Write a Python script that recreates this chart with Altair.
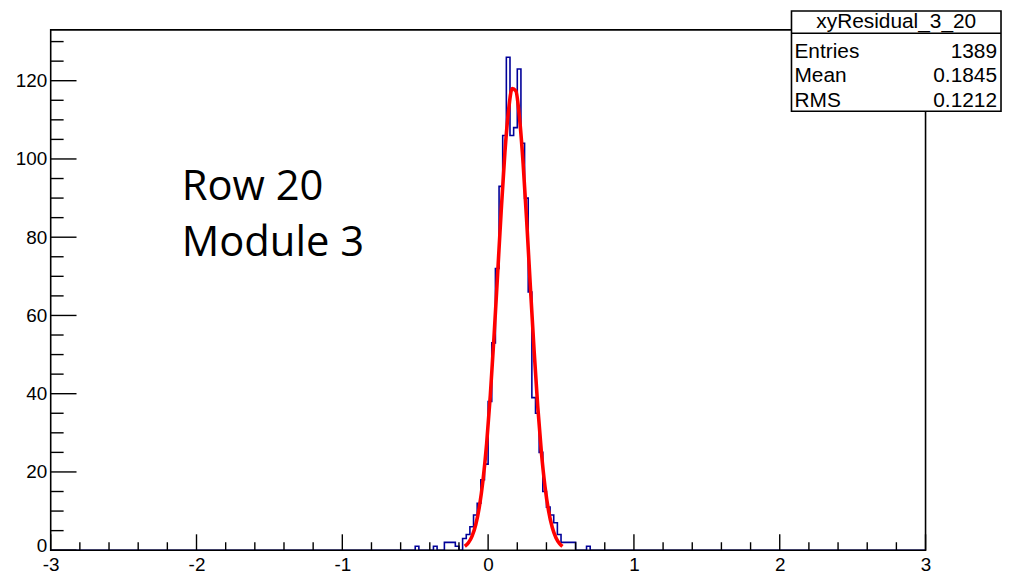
import altair as alt
import pandas as pd

# ---------------- data ----------------
# histogram xyResidual_3_20 : bins of width 0.025 starting at -0.525
bin_start = -0.525
bin_width = 0.025
counts = [0, 1, 0, 0, 0, 0, 1, 0, 0, 2,
          2, 2, 1, 0, 3, 4, 6, 9, 12, 18,
          22, 38, 53, 72, 93, 106, 126, 106, 108, 123,
          104, 90, 66, 39, 35, 25, 15, 11, 9, 7,
          4, 2, 2, 2, 2, 0, 0, 0, 1, 0]

fit_x = [-0.16, -0.135, -0.11, -0.085, -0.06, -0.035, -0.01, 0.015, 0.04, 0.065,
         0.09, 0.115, 0.14, 0.165, 0.19, 0.215, 0.24, 0.265, 0.29, 0.315,
         0.34, 0.365, 0.39, 0.415, 0.44, 0.465, 0.49, 0.51]
fit_y = [1.0, 1.9, 3.6, 6.5, 11.1, 17.9, 27.3, 39.6, 54.3, 70.5,
         86.9, 101.6, 112.4, 118.0, 117.4, 110.6, 98.9, 83.8, 67.2, 51.2,
         36.9, 25.2, 16.3, 10.0, 5.8, 3.2, 1.7, 1.0]

# axes
x_range = [-3, 3]
y_range = [0, 133]
x_major = [-3, -2, -1, 0, 1, 2, 3]
x_minor = [-2.8, -2.6, -2.4, -2.2, -1.8, -1.6, -1.4, -1.2, -0.8, -0.6, -0.4, -0.2,
           0.2, 0.4, 0.6, 0.8, 1.2, 1.4, 1.6, 1.8, 2.2, 2.4, 2.6, 2.8]
y_major = [0, 20, 40, 60, 80, 100, 120]
y_minor = [5, 10, 15, 25, 30, 35, 45, 50, 55, 65, 70, 75, 85, 90, 95,
           105, 110, 115, 125, 130]

# statistics box and annotation
stats_title = "xyResidual_3_20"
stat_names = ["Entries", "Mean", "RMS"]
stat_values = ["1389", "0.1845", "0.1212"]
note_lines = ["Row 20", "Module 3"]

# ---------------- chart ----------------
W, H = 881, 524
LABEL_FONT = "Liberation Sans"

xs = alt.Scale(domain=x_range, nice=False, zero=False)
ys = alt.Scale(domain=y_range, nice=False, zero=False)

# histogram outline points (step-after)
hx = [x_range[0]]
hy = [0]
for k, c in enumerate(counts):
    hx.append(round(bin_start + k * bin_width, 4))
    hy.append(c)
hx.append(round(bin_start + len(counts) * bin_width, 4))
hy.append(0)
hx.append(x_range[1])
hy.append(0)
hist_df = pd.DataFrame({"x": hx, "y": hy})

x_axis = alt.Axis(values=x_major, labelExpr="toString(datum.value)", ticks=False,
                  domain=False, grid=False, title=None, labelFont=LABEL_FONT,
                  labelFontSize=19, labelColor="black", labelPadding=5,
                  labelFlush=False)
y_axis = alt.Axis(values=y_major, ticks=False, domain=False, grid=False, title=None,
                  labelFont=LABEL_FONT, labelFontSize=19, labelColor="black",
                  labelPadding=4,
                  labelOffset={"condition": {"test": "datum.value === 0", "value": -5},
                               "value": 0})

hist = alt.Chart(hist_df).mark_line(
    interpolate="step-after", color="#000099", strokeWidth=1.6
).encode(
    x=alt.X("x:Q", scale=xs, axis=x_axis),
    y=alt.Y("y:Q", scale=ys, axis=y_axis),
)

fit = alt.Chart(pd.DataFrame({"x": fit_x, "y": fit_y})).mark_line(
    interpolate="monotone", color="#ff0000", strokeWidth=3.6
).encode(
    x=alt.X("x:Q", scale=xs, axis=x_axis),
    y=alt.Y("y:Q", scale=ys, axis=y_axis),
)

one = pd.DataFrame({"a": [0]})

frame = alt.Chart(one).mark_rect(filled=False, stroke="black", strokeWidth=1.6).encode(
    x=alt.value(0), x2=alt.value(W), y=alt.value(0), y2=alt.value(H)
)

def yticks(vals, length):
    return alt.Chart(pd.DataFrame({"y": vals})).mark_rule(color="black", strokeWidth=1.4).encode(
        y=alt.Y("y:Q", scale=ys, axis=y_axis), x=alt.value(0), x2=alt.value(length)
    )

def xticks(vals, length):
    return alt.Chart(pd.DataFrame({"x": vals})).mark_rule(color="black", strokeWidth=1.4).encode(
        x=alt.X("x:Q", scale=xs, axis=x_axis), y=alt.value(H), y2=alt.value(H - length)
    )

ticks = [yticks(y_major, 26), yticks(y_minor, 13), xticks(x_major, 16), xticks(x_minor, 8)]

# annotation text
notes = []
for i, line in enumerate(note_lines):
    notes.append(
        alt.Chart(pd.DataFrame({"t": [line]})).mark_text(
            font="Open Sans", fontSize=42, align="left", baseline="alphabetic", color="black"
        ).encode(x=alt.value(132), y=alt.value(171 + i * 57), text="t:N")
    )

# statistics box
BX0, BX1, BY0, BY1 = 746, 957, -19, 82
box = alt.Chart(one).mark_rect(fill="white", stroke="black", strokeWidth=1.6).encode(
    x=alt.value(BX0), x2=alt.value(BX1), y=alt.value(BY0), y2=alt.value(BY1)
)
divider = alt.Chart(one).mark_rule(color="black", strokeWidth=1.5).encode(
    x=alt.value(BX0), x2=alt.value(BX1), y=alt.value(3.5)
)
stats = [box, divider,
         alt.Chart(pd.DataFrame({"t": [stats_title]})).mark_text(
             font=LABEL_FONT, fontSize=21, align="center", baseline="middle", color="black"
         ).encode(x=alt.value((BX0 + BX1) / 2), y=alt.value(-8), text="t:N")]
for i, (name, val) in enumerate(zip(stat_names, stat_values)):
    yy = 22 + i * 25
    stats.append(alt.Chart(pd.DataFrame({"t": [name]})).mark_text(
        font=LABEL_FONT, fontSize=21, align="left", baseline="middle", color="black"
    ).encode(x=alt.value(BX0 + 3), y=alt.value(yy), text="t:N"))
    stats.append(alt.Chart(pd.DataFrame({"t": [val]})).mark_text(
        font=LABEL_FONT, fontSize=21, align="right", baseline="middle", color="black"
    ).encode(x=alt.value(BX1 - 4), y=alt.value(yy), text="t:N"))

chart = alt.layer(hist, fit, *ticks, frame, *notes, *stats).properties(
    width=W, height=H,
    padding={"left": 43, "top": 20, "right": 78, "bottom": 26},
    autosize=alt.AutoSizeParams(type="none"),
    background="white",
).configure_view(strokeWidth=0)

chart.save("out.html", embed_options={"renderer": "svg", "actions": False})
